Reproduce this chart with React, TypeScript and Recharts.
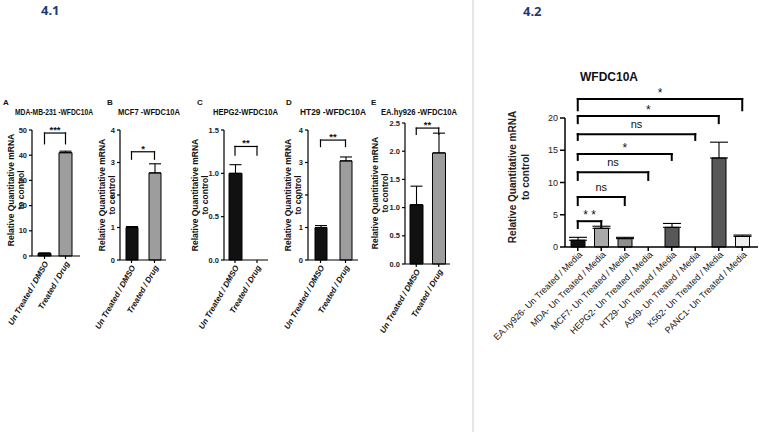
import { BarChart, Bar, XAxis, YAxis, ErrorBar, Cell, ReferenceLine } from "recharts";

const FONT = "'Liberation Sans', Arial, sans-serif";

// ---- 4.1 data ----
const treatments = ["Un Treated / DMSO", "Treated / Drug"];

const mdaMean = [1.0, 41.0];
const mdaSem = [0.25, 0.6];
const mcf7Mean = [1.0, 2.68];
const mcf7Sem = [0.03, 0.28];
const hepg2Mean = [1.0, 0];
const hepg2Sem = [0.1, 0];
const ht29Mean = [1.0, 3.05];
const ht29Sem = [0.06, 0.12];
const eaMean = [1.05, 1.97];
const eaSem = [0.33, 0.35];

const ticks50 = [0, 10, 20, 30, 40, 50];
const ticks4 = [0, 1, 2, 3, 4];
const ticks15 = [0, 0.5, 1.0, 1.5];
const ticks25 = [0, 0.5, 1.0, 1.5, 2.0, 2.5];

const panelLetters = ["A", "B", "C", "D", "E"];
const panelTitles = ["MDA-MB-231 -WFDC10A", "MCF7 -WFDC10A", "HEPG2-WFDC10A", "HT29 -WFDC10A", "EA.hy926 -WFDC10A"];

// significance bracket per panel: label, bar height, leg bottom
const mdaSig = [{ from: treatments[0], to: treatments[1], text: "***", top: 48.8, foot: 44.5 }];
const mcf7Sig = [{ from: treatments[0], to: treatments[1], text: "*", top: 3.33, foot: 3.1 }];
const hepg2Sig = [{ from: treatments[0], to: treatments[1], text: "**", top: 1.31, foot: 1.21 }];
const ht29Sig = [{ from: treatments[0], to: treatments[1], text: "**", top: 3.69, foot: 3.49 }];
const eaSig = [{ from: treatments[0], to: treatments[1], text: "**", top: 2.41, foot: 2.3 }];

// ---- 4.2 data ----
const cellLines = [
  "EA.hy926- Un Treated / Media",
  "MDA- Un Treated / Media",
  "MCF7- Un Treated / Media",
  "HEPG2- Un Treated / Media",
  "HT29- Un Treated / Media",
  "A549- Un Treated / Media",
  "K562- Un Treated / Media",
  "PANC1- Un Treated / Media",
];
const mediaMean = [1.05, 2.9, 1.3, 0, 3.05, 0, 13.8, 1.65];
const mediaSem = [0.45, 0.32, 0.2, 0, 0.6, 0, 2.45, 0.2];
const mediaTicks = [0, 5, 10, 15, 20];
const mediaSigTo = [7, 6, 5, 4, 3, 2, 1];
const mediaSigText = ["*", "*", "ns", "*", "ns", "ns", "* *"];
const mediaSigTop = [22.95, 20.3, 17.5, 14.4, 11.6, 7.75, 4.0];
const mediaSigFoot = [21.2, 19.2, 16.6, 13.5, 10.4, 6.5, 2.95];

const mediaSig = mediaSigTo.map((t, i) => ({
  from: cellLines[0],
  to: cellLines[t],
  text: mediaSigText[i],
  top: mediaSigTop[i],
  foot: mediaSigFoot[i],
}));

// styles
const twoFills = ["#111111", "#9d9d9d"];
const mediaFills = ["#111111", "#a9a9a9", "#8e8e8e", "#8e8e8e", "#585858", "#585858", "#585858", "#eeeeee"];

function table(names: string[], mean: number[], sem: number[]) {
  return names.map((name, i) => ({ name, mean: mean[i], err: [0, sem[i]] }));
}

function SlantTick(props: any) {
  const { x, y, payload, angle, size, italic, bold, dx = 0, dy = 0 } = props;
  const tx = x + dx;
  const ty = y + dy;
  return (
    <text
      x={tx}
      y={ty}
      transform={`rotate(${angle}, ${tx}, ${ty})`}
      textAnchor="end"
      dominantBaseline="central"
      fontSize={size}
      fontWeight={bold ? "bold" : "normal"}
      fontStyle={italic ? "italic" : "normal"}
      fill="#111"
      fontFamily={FONT}
    >
      {payload.value}
    </text>
  );
}

function bracketLines(b: any, key: string, look: any) {
  const common = { stroke: "#000", strokeWidth: look.bw, ifOverflow: "visible" as const, strokeLinecap: "square" as const };
  const isNs = b.text === "ns";
  return [
    <ReferenceLine
      key={key + "h"}
      {...common}
      segment={[{ x: b.from, y: b.top }, { x: b.to, y: b.top }]}
      label={{
        value: b.text,
        position: "top",
        offset: isNs ? look.nsOff : look.starOff,
        fontSize: isNs ? look.nsSize : look.starSize,
        fontWeight: look.sigBold ? "bold" : "normal",
        fill: "#111",
        fontFamily: FONT,
      }}
    />,
    <ReferenceLine key={key + "l"} {...common} segment={[{ x: b.from, y: b.top }, { x: b.from, y: b.foot }]} />,
    <ReferenceLine key={key + "r"} {...common} segment={[{ x: b.to, y: b.top }, { x: b.to, y: b.foot }]} />,
  ];
}

function SigChart(props: any) {
  const { box, top, bottom, data, ticks, fmt, barSize, padding, brackets, fills, look, rightRoom = 4 } = props;
  const axisW = 25;
  const left = box.x0 - axisW - look.leftRoom;
  const width = box.x1 - left + rightRoom;
  const height = bottom - top;
  const xAxisH = bottom - 10 - box.y1;
  return (
    <div style={{ position: "absolute", left, top }}>
      <BarChart
        width={width}
        height={height}
        data={data}
        margin={{ top: box.y0 - top, right: rightRoom, bottom: 10, left: look.leftRoom }}
        barCategoryGap={0}
      >
        <XAxis
          dataKey="name"
          interval={0}
          height={xAxisH}
          padding={padding}
          tickSize={look.xTickSize}
          tickLine={{ stroke: "#000", strokeWidth: look.aw }}
          axisLine={{ stroke: "#000", strokeWidth: look.aw }}
          tick={<SlantTick angle={look.angle} size={look.xFont} italic={look.italic} bold={look.xBold} dx={look.xdx} dy={look.xdy} />}
        />
        <YAxis
          width={axisW}
          domain={[0, ticks[ticks.length - 1]]}
          ticks={ticks}
          interval={0}
          tickFormatter={fmt}
          tickSize={look.yTickSize}
          tickLine={{ stroke: "#000", strokeWidth: look.aw }}
          axisLine={{ stroke: "#000", strokeWidth: look.aw }}
          tick={{ fontSize: look.yFont, fontWeight: look.yBold ? "bold" : "normal", fill: "#222", fontFamily: FONT }}
        />
        <Bar dataKey="mean" barSize={barSize} stroke="#000" strokeWidth={1} isAnimationActive={false}>
          {data.map((_: any, i: number) => (
            <Cell key={i} fill={fills[i % fills.length]} />
          ))}
          <ErrorBar dataKey="err" direction="y" width={look.cap} stroke="#000" strokeWidth={1.1} isAnimationActive={false} />
        </Bar>
        {brackets.flatMap((b: any, i: number) => bracketLines(b, "s" + i, look))}
      </BarChart>
    </div>
  );
}

const look41 = {
  leftRoom: 0,
  aw: 1.2,
  bw: 1.2,
  xTickSize: 3,
  yTickSize: 3,
  angle: -60,
  xFont: 8,
  italic: true,
  xBold: true,
  xdx: 2,
  xdy: 1,
  yFont: 7.5,
  yBold: true,
  cap: 6,
  starOff: 0,
  nsOff: 4,
  starSize: 9.5,
  nsSize: 10,
  sigBold: true,
};

const look42 = {
  leftRoom: 110,
  aw: 1.5,
  bw: 2,
  xTickSize: 4,
  yTickSize: 5,
  angle: -45,
  xFont: 9,
  italic: false,
  xBold: false,
  xdx: 3,
  xdy: 0,
  yFont: 9,
  yBold: false,
  cap: 9,
  starOff: 2,
  nsOff: 6,
  starSize: 12,
  nsSize: 11,
  sigBold: false,
};

const int = (v: number) => String(v);
const one = (v: number) => v.toFixed(1);

// overlay text layout
const letterX = [3, 107, 197, 286, 371];
const titleX = [15, 118, 213, 300, 381];
const titleLen = [78, 62, 65, 66, 76];
const yLabelX = [11, 102, 195, 288, 375];
const yLabelY = [190, 195, 195, 195, 193];

export default function App() {
  return (
    <div style={{ position: "absolute", left: 0, top: 0, width: 759, height: 435, background: "#fff", overflow: "hidden" }}>
      <style>{`.recharts-surface{overflow:visible}`}</style>
      <svg width={759} height={435} style={{ position: "absolute", left: 0, top: 0 }}>
        <line x1={473} y1={0} x2={473} y2={432} stroke="#d4d4d4" strokeWidth={1.2} />
        <text x={41} y={15} fontSize={13} fontWeight="bold" fill="#1f3b7a" fontFamily="'Noto Sans', sans-serif">4.1</text>
        <text x={523} y={16} fontSize={13} fontWeight="bold" fill="#1f3b7a" fontFamily="'Noto Sans', sans-serif">4.2</text>
        {panelLetters.map((l, i) => (
          <text key={l} x={letterX[i]} y={105} fontSize={8} fontWeight="bold" fill="#111" fontFamily={FONT}>{l}</text>
        ))}
        {panelTitles.map((t, i) => (
          <text key={t} x={titleX[i]} y={115} fontSize={9} fontWeight="bold" fill="#111" fontFamily={FONT}
            textLength={titleLen[i]} lengthAdjust="spacingAndGlyphs">{t}</text>
        ))}
        {yLabelX.map((x, i) => (
          <g key={i} transform={`rotate(-90, ${x}, ${yLabelY[i]})`}>
            <text x={x} y={yLabelY[i]} textAnchor="middle" dominantBaseline="central" fontSize={8.5} fontWeight="bold" fill="#111" fontFamily={FONT}>
              Relative Quantitative mRNA
            </text>
            <text x={x} y={yLabelY[i] + 10} textAnchor="middle" dominantBaseline="central" fontSize={8.5} fontWeight="bold" fill="#111" fontFamily={FONT}>
              to control
            </text>
          </g>
        ))}
        <text x={580} y={80.5} fontSize={12} fontWeight="bold" fill="#111" fontFamily={FONT}>WFDC10A</text>
        <g transform="rotate(-90, 512, 177)">
          <text x={512} y={177} textAnchor="middle" dominantBaseline="central" fontSize={10} fontWeight="bold" fill="#222" fontFamily={FONT}>
            Relative Quantitative mRNA
          </text>
          <text x={512} y={190} textAnchor="middle" dominantBaseline="central" fontSize={10} fontWeight="bold" fill="#222" fontFamily={FONT}>
            to control
          </text>
        </g>
      </svg>

      <SigChart box={{ x0: 32, x1: 80, y0: 130, y1: 256 }} top={100} bottom={360} data={table(treatments, mdaMean, mdaSem)}
        ticks={ticks50} fmt={int} barSize={13} padding={{ left: 2, right: 4 }} brackets={mdaSig} fills={twoFills} look={look41} />
      <SigChart box={{ x0: 120, x1: 166, y0: 130, y1: 260 }} top={100} bottom={360} data={table(treatments, mcf7Mean, mcf7Sem)}
        ticks={ticks4} fmt={int} barSize={12} padding={{ left: 0, right: 0 }} brackets={mcf7Sig} fills={twoFills} look={look41} />
      <SigChart box={{ x0: 224, x1: 268, y0: 130, y1: 260 }} top={100} bottom={360} data={table(treatments, hepg2Mean, hepg2Sem)}
        ticks={ticks15} fmt={one} barSize={13} padding={{ left: 0, right: 0 }} brackets={hepg2Sig} fills={twoFills} look={look41} />
      <SigChart box={{ x0: 308, x1: 358, y0: 130, y1: 260 }} top={100} bottom={360} data={table(treatments, ht29Mean, ht29Sem)}
        ticks={ticks4} fmt={int} barSize={12} padding={{ left: 0, right: 0 }} brackets={ht29Sig} fills={twoFills} look={look41} />
      <SigChart box={{ x0: 405, x1: 450, y0: 123, y1: 264 }} top={100} bottom={360} data={table(treatments, eaMean, eaSem)}
        ticks={ticks25} fmt={one} barSize={13} padding={{ left: 0, right: 0 }} brackets={eaSig} fills={twoFills} look={look41} />

      <SigChart box={{ x0: 565, x1: 758, y0: 118, y1: 247 }} top={40} bottom={432} data={table(cellLines, mediaMean, mediaSem)}
        ticks={mediaTicks} fmt={int} barSize={14} padding={{ left: 1, right: 4 }} brackets={mediaSig} fills={mediaFills}
        look={look42} rightRoom={1} />
    </div>
  );
}
